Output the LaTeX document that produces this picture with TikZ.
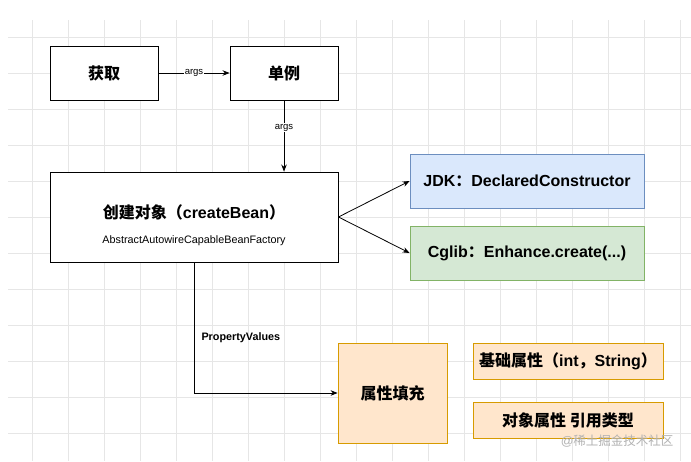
\documentclass[tikz,border=0pt]{standalone}
\usepackage{fontspec}
\setmainfont{Liberation Sans}
\newfontfamily\cjk{Noto Sans CJK SC}
\usetikzlibrary{arrows.meta}
\definecolor{gridc}{HTML}{E6E6E6}
\definecolor{bluef}{HTML}{DAE8FC}
\definecolor{blues}{HTML}{6C8EBF}
\definecolor{greenf}{HTML}{D5E8D4}
\definecolor{greens}{HTML}{82B366}
\definecolor{orangef}{HTML}{FFE6CC}
\definecolor{oranges}{HTML}{D79B00}
\tikzset{
  box/.style={draw=black, line width=0.9pt, fill=white, minimum width=#1, inner sep=0pt},
  lbl/.style={font=\fontsize{9.5}{10}\selectfont, fill=white, inner sep=1pt},
  conn/.style={line width=0.8pt, -{Stealth[length=7pt,width=5.5pt]}},
  bt/.style={font=\fontsize{16}{18}\selectfont\bfseries},
}
\begin{document}
\begin{tikzpicture}[x=1pt,y=-1pt]
\useasboundingbox (0,0) rectangle (691,461);
\fill[white] (0,0) rectangle (691,461);
% grid
\foreach \x in {32,68,...,680} \draw[gridc, line width=0.6pt] (\x,20) -- (\x,461);
\foreach \y in {37,73,...,440} \draw[gridc, line width=0.6pt] (8,\y) -- (691,\y);

% nodes
\node[box=108pt, minimum height=54pt, bt] (get) at (104,73) {\cjk\bfseries 获取};
\node[box=108pt, minimum height=54pt, bt] (single) at (284,73) {\cjk\bfseries 单例};
\node[box=288pt, minimum height=90pt] (create) at (194,217) {};
\node[bt] (ctitle) at (194,212) {{\cjk\bfseries 创建对象（}createBean{\cjk\bfseries ）}};
\node[font=\fontsize{10.8}{12}\selectfont] (csub) at (194,241) {AbstractAutowireCapableBeanFactory};
\node[draw=blues, fill=bluef, line width=0.8pt, minimum width=234pt, minimum height=54pt, bt] (jdk) at (527,181) {JDK{\cjk\bfseries ：}DeclaredConstructor};
\node[draw=greens, fill=greenf, line width=0.8pt, minimum width=234pt, minimum height=54pt, bt] (cglib) at (527,253) {Cglib{\cjk\bfseries ：}Enhance.create(...)};
\node[draw=oranges, fill=orangef, line width=0.8pt, minimum width=109pt, minimum height=100pt, bt] (fill) at (392.5,393) {\cjk\bfseries 属性填充};
\node[draw=oranges, fill=orangef, line width=0.8pt, minimum width=190pt, minimum height=36pt, bt] (basic) at (568,361) {{\cjk\bfseries 基础属性（}int{\cjk\bfseries ，}String{\cjk\bfseries ）}};
\node[draw=oranges, fill=orangef, line width=0.8pt, minimum width=190pt, minimum height=36pt, bt] (obj) at (568,420) {\cjk\bfseries 对象属性 引用类型};

% connectors
\draw[conn] (get.east) -- node[lbl] (a1) {args} (single.west);
\draw[conn] (single.south) -- node[lbl, pos=0.38] (a2) {args} (single.south |- create.north);
\coordinate (cr) at (create.east);
\draw[conn] (cr) -- (jdk.west);
\draw[conn] (cr) -- (cglib.west);
\coordinate (cb) at (194,262);
\draw[conn] (cb) |- (fill.west);
\node[font=\fontsize{10.8}{12}\selectfont\bfseries, anchor=west] (pv) at (198,338) {PropertyValues};

% watermark
\node[text=black!30, font=\fontsize{12.5}{14}\selectfont, anchor=east] (wm) at (677,441) {@{\cjk 稀土掘金技术社区}};
\end{tikzpicture}
\end{document}
